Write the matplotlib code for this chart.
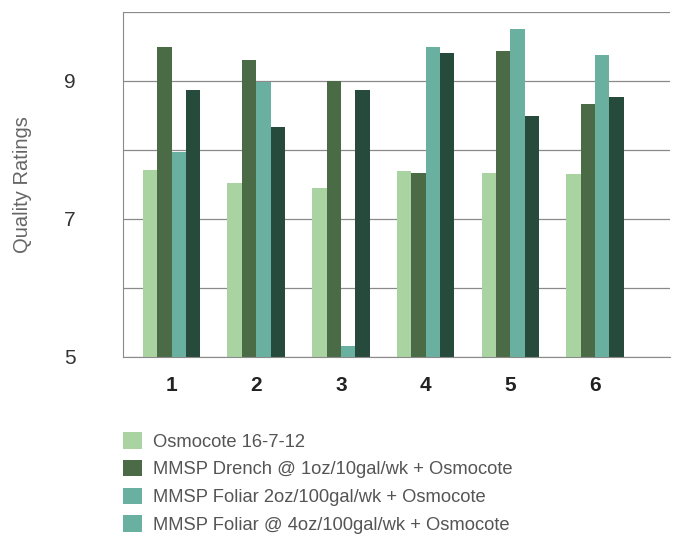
import numpy as np
import matplotlib.pyplot as plt
from matplotlib.patches import Patch

plt.rcParams['font.family'] = ['Liberation Sans', 'DejaVu Sans']

groups = ['1', '2', '3', '4', '5', '6']
series_names = [
    'Osmocote 16-7-12',
    'MMSP Drench @ 1oz/10gal/wk + Osmocote',
    'MMSP Foliar 2oz/100gal/wk + Osmocote',
    'MMSP Foliar @ 4oz/100gal/wk + Osmocote',
]
osmocote = [7.71, 7.52, 7.45, 7.69, 7.66, 7.65]
drench_1oz = [9.50, 9.31, 9.00, 7.67, 9.44, 8.67]
foliar_2oz = [7.97, 8.98, 5.16, 9.50, 9.75, 9.38]
foliar_4oz = [8.87, 8.34, 8.87, 9.41, 8.49, 8.77]

series = [osmocote, drench_1oz, foliar_2oz, foliar_4oz]
bar_colors = ['#a9d3a0', '#4b6b47', '#6ab0a0', '#264b3c']
# legend in the original shows the 4th swatch in the same teal as the 3rd
legend_colors = ['#a9d3a0', '#4b6b47', '#6ab0a0', '#6ab0a0']

fig = plt.figure(figsize=(6.77, 5.54), dpi=100)
ax = fig.add_axes([123 / 677, 1 - 357 / 554, (670 - 123) / 677, (357 - 12) / 554])

x = np.arange(len(groups))
w = 0.17
for i, vals in enumerate(series):
    ax.bar(x + (i - 1.5) * w, np.array(vals) - 5, width=w, bottom=5,
           color=bar_colors[i], zorder=2)

ax.set_ylim(5, 10)
ax.set_xlim(-0.573, 5.885)
ax.set_yticks([5, 6, 7, 8, 9, 10])
ax.set_yticklabels(['5', '', '7', '', '9', ''])
ax.yaxis.grid(True, color='#8a8a8a', lw=0.9, zorder=0)
ax.set_xticks(x)
ax.set_xticklabels(groups, fontweight='bold', fontsize=15, color='#222222')
ax.tick_params(axis='both', length=0)
ax.tick_params(axis='y', labelsize=15, labelcolor='#333333', pad=34)
ax.tick_params(axis='x', pad=14)
for side in ['top', 'right']:
    ax.spines[side].set_visible(False)
ax.spines['left'].set_color('#8a8a8a')
ax.spines['bottom'].set_color('#8a8a8a')
ax.set_ylabel('Quality Ratings', fontsize=14.5, color='#666666')
ax.yaxis.set_label_coords(-0.166, 0.5)

handles = [Patch(facecolor=c) for c in legend_colors]
fig.legend(handles, series_names, loc='upper left',
           bbox_to_anchor=(116 / 677, 1 - 425 / 554), frameon=False,
           borderaxespad=0, fontsize=13.2, labelcolor='#555555',
           handlelength=1.0, handleheight=1.0, handletextpad=0.6,
           labelspacing=0.5)

fig.savefig('out.png', dpi=100)
